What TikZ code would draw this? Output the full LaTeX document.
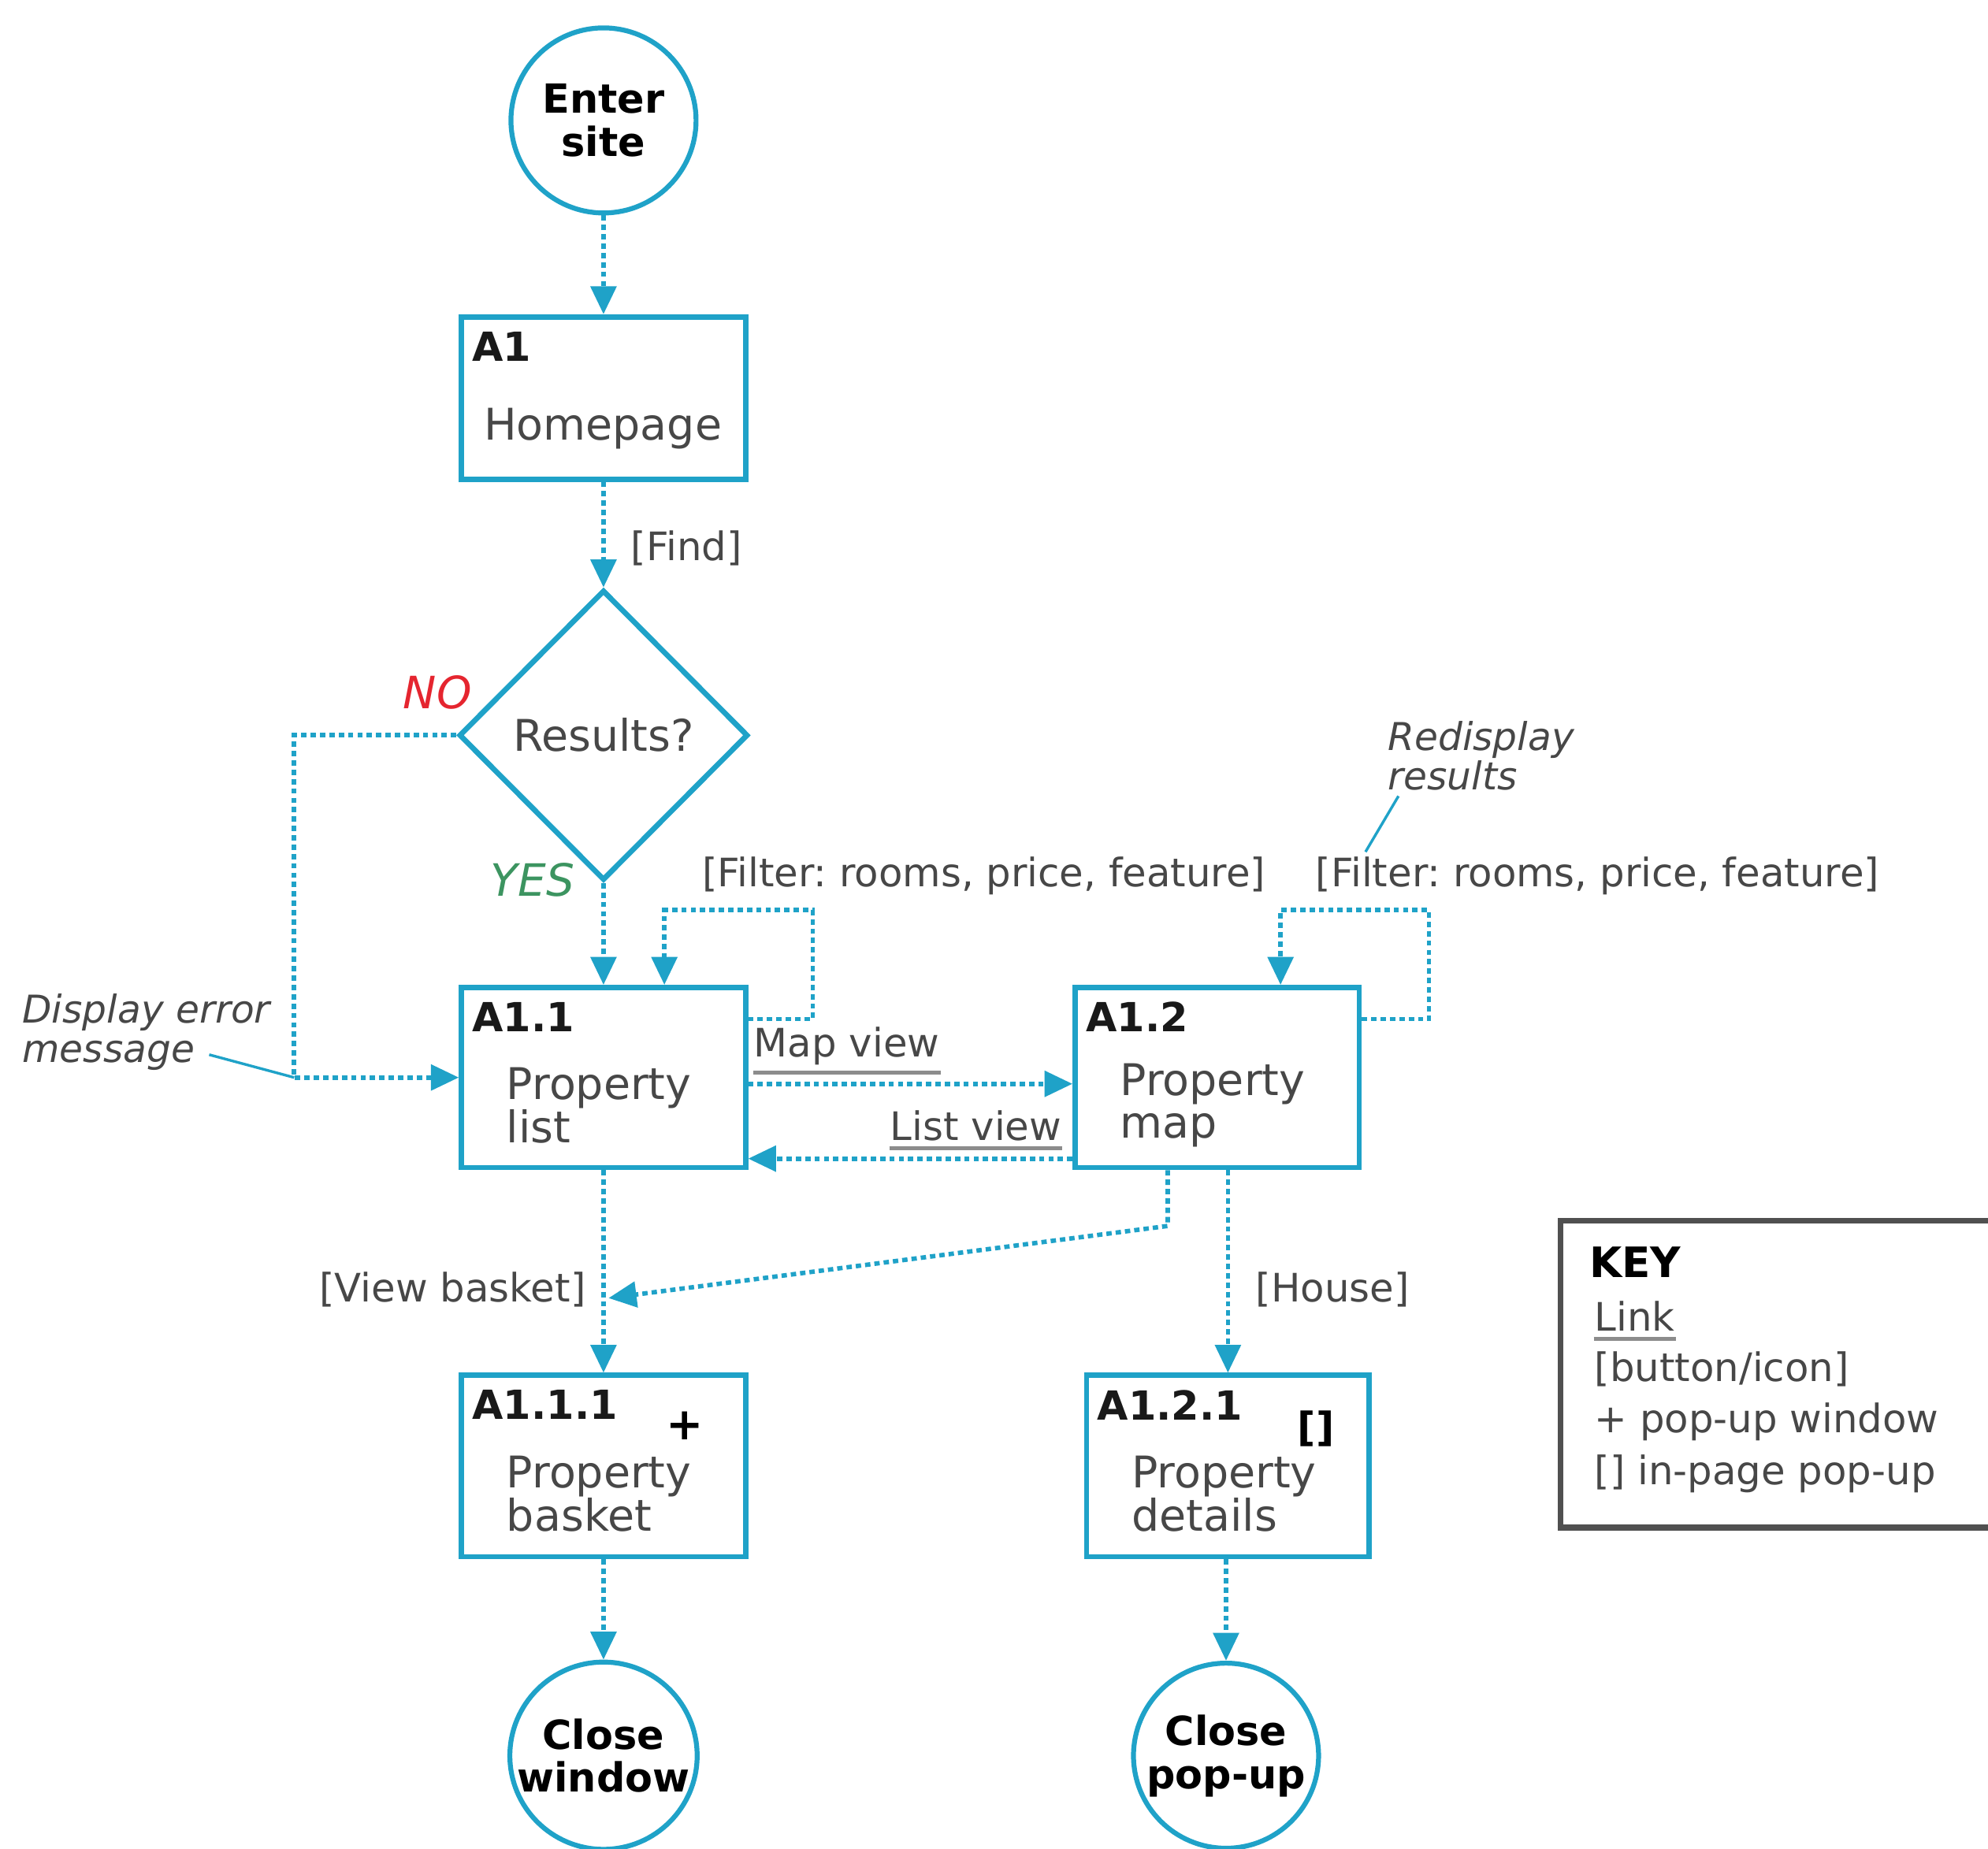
\documentclass[tikz,border=0pt]{standalone}
\usepackage{fontspec}
\setmainfont{DejaVu Sans}
\frenchspacing
\usetikzlibrary{arrows.meta,shapes.geometric,calc}
\definecolor{sitemap}{HTML}{1FA2C8}
\definecolor{txtgray}{HTML}{474747}
\definecolor{nored}{HTML}{E5252F}
\definecolor{yesgreen}{HTML}{3C9460}
\definecolor{keygray}{HTML}{505050}
\definecolor{ulgray}{HTML}{8C8C8C}

\tikzset{
 page/.style={draw=sitemap,line width=1.2pt,minimum width=2.24cm,inner sep=0pt},
 term/.style={circle,draw=sitemap,line width=1.1pt,minimum size=1.46cm,inner sep=0pt,align=center,font=\bfseries\fontsize{9}{9.7}\selectfont,text=black},
 pid/.style={anchor=north west,inner sep=0pt,font=\bfseries\fontsize{9}{9}\selectfont,text=black!90},
 pname/.style={anchor=west,inner sep=0pt,align=left,font=\fontsize{9.8}{9.7}\selectfont,text=txtgray},
 flow/.style={sitemap,line width=1pt,dash pattern=on 1.2pt off .9pt,-{Triangle[width=.2cm,length=.22cm]}},
 btn/.style={font=\fontsize{8.8}{9}\selectfont,text=txtgray,inner sep=0pt},
 note/.style={font=\itshape\fontsize{8.6}{8.8}\selectfont,text=txtgray,align=left,inner sep=0pt},
 noteline/.style={sitemap,line width=.6pt},
 linklbl/.style={btn,inner ysep=1.5pt},
 uline/.style={ulgray,line width=.9pt}
}

\begin{document}
\begin{tikzpicture}
 \useasboundingbox (0,0) rectangle (15.68,-14.58);
 \clip (0,0) rectangle (15.68,-14.58);
 % pages and terminals
 \node[term] (enter) at (4.76,-.95) {Enter\\site};
 \node[page,minimum height=1.28cm] (a1) at (4.76,-3.14) {};
 \node[pid] (a1id) at ([shift={(.10,-.13)}]a1.north west) {A1};
 \node[pname] (a1nm) at ([shift={(.19,-.24)}]a1.west) {Homepage};
 \node[diamond,draw=sitemap,line width=1.2pt,minimum width=2.28cm,minimum height=2.29cm,inner sep=0pt,font=\fontsize{9.8}{9.8}\selectfont,text=txtgray] (res) at (4.76,-5.80) {Results?};
 \node[page,minimum height=1.42cm] (a11) at (4.76,-8.50) {};
 \node[pid] (a11id) at ([shift={(.10,-.13)}]a11.north west) {A1.1};
 \node[pname] (a11nm) at ([shift={(.37,-.22)}]a11.west) {Property\\list};
 \node[page,minimum height=1.42cm] (a12) at (9.60,-8.50) {};
 \node[pid] (a12id) at ([shift={(.10,-.13)}]a12.north west) {A1.2};
 \node[pname] (a12nm) at ([shift={(.37,-.22)}]a12.west) {Property\\map};
 \node[page,minimum height=1.43cm] (a111) at (4.76,-11.565) {};
 \node[pid] (a111id) at ([shift={(.10,-.13)}]a111.north west) {A1.1.1};
 \node[pname] (a111nm) at ([shift={(.37,-.22)}]a111.west) {Property\\basket};
 \node[font=\bfseries\fontsize{10}{10}\selectfont,text=black,inner sep=0pt] (plus) at (5.40,-11.25) {+};
 \node[page,minimum width=2.23cm,minimum height=1.43cm] (a121) at (9.685,-11.565) {};
 \node[pid] (a121id) at ([shift={(.10,-.13)}]a121.north west) {A1.2.1};
 \node[pname] (a121nm) at ([shift={(.37,-.22)}]a121.west) {Property\\details};
 \node[font=\bfseries\fontsize{9}{9}\selectfont,text=black,inner sep=0pt] (inpg) at (10.38,-11.27) {[]};
 \node[term] (closew) at (4.76,-13.85) {Close\\window};
 \node[term] (closep) at (9.67,-13.85) {Close\\pop-up};

 % main flow
 \draw[flow] (enter) -- (a1);
 \draw[flow] (a1) -- (res) node[btn,pos=.63,anchor=west,xshift=.2cm] (find) {[Find]};
 \draw[flow] (res) -- (a11);
 \node[font=\itshape\fontsize{10}{10}\selectfont,text=yesgreen,inner sep=0pt] (yes) at (4.20,-6.94) {YES};
 \node[font=\itshape\fontsize{10}{10}\selectfont,text=nored,inner sep=0pt] (no) at (3.45,-5.46) {NO};
 \coordinate (errc) at (2.32,-8.50);
 \draw[flow] (res.west) -| (errc) -- (a11.west);
 \node[note,anchor=west] (errnote) at (.17,-8.14) {Display error\\message};
 \coordinate (errtip) at (1.65,-8.32);
 \draw[noteline] (errtip) -- (errc);

 % filter loops
 \coordinate (f11) at (6.41,-7.18);
 \draw[flow] ([yshift=-.27cm]a11.north east) -| (f11) -| ([xshift=.48cm]a11.north);
 \node[btn] (filt11) at (7.76,-6.91) {[Filter: rooms, price, feature]};
 \coordinate (f12) at (11.27,-7.18);
 \draw[flow] ([yshift=-.27cm]a12.north east) -| (f12) -| ([xshift=.50cm]a12.north);
 \node[btn] (filt12) at (12.60,-6.91) {[Filter: rooms, price, feature]};
 \node[note,anchor=west] (redisp) at (10.94,-5.96) {Redisplay\\results};
 \coordinate (rtipA) at (11.03,-6.28);
 \coordinate (rtipB) at (10.77,-6.72);
 \draw[noteline] (rtipA) -- (rtipB);

 % map / list
 \draw[flow] ([yshift=-.05cm]a11.east) -- ([yshift=-.05cm]a12.west);
 \node[linklbl,anchor=south west] (mapv) at (5.94,-8.46) {Map view};
 \draw[uline] (mapv.south west) -- (mapv.south east);
 \draw[flow] ([yshift=-.64cm]a12.west) -- ([yshift=-.64cm]a11.east);
 \node[linklbl,anchor=south east] (listv) at (8.38,-9.06) {List view};
 \draw[uline] (listv.south west) -- (listv.south east);

 % lower level
 \coordinate (bask) at (4.80,-10.24);
 \draw[flow] ([xshift=-.39cm]a12.south) -- ++(0,-.44) -- (bask);
 \node[btn] (vbask) at (3.57,-10.17) {[View basket]};
 \draw[flow] (a11) -- (a111);
 \draw[flow] (a12.south -| a121.north) -- (a121.north);
 \node[btn] (house) at (10.51,-10.17) {[House]};
 \draw[flow] (a111) -- (closew);
 \draw[flow] (a121.south -| closep.north) -- (closep);

 % key
 \draw[keygray,line width=1.3pt] (12.31,-9.63) rectangle (16.2,-12.05);
 \node[anchor=base west,font=\bfseries\fontsize{9.4}{9.4}\selectfont,text=black,inner sep=0pt] (keyttl) at (12.53,-10.08) {KEY};
 \node[linklbl,anchor=base west,inner xsep=0pt] (keylink) at (12.57,-10.50) {Link};
 \draw[uline] (keylink.south west) -- (keylink.south east);
 \node[btn,anchor=base west] (keybtn) at (12.57,-10.90) {[button/icon]};
 \node[btn,anchor=base west] (keypop) at (12.57,-11.30) {+ pop-up window};
 \node[btn,anchor=base west] (keyinp) at (12.57,-11.71) {[] in-page pop-up};
\end{tikzpicture}
\end{document}
